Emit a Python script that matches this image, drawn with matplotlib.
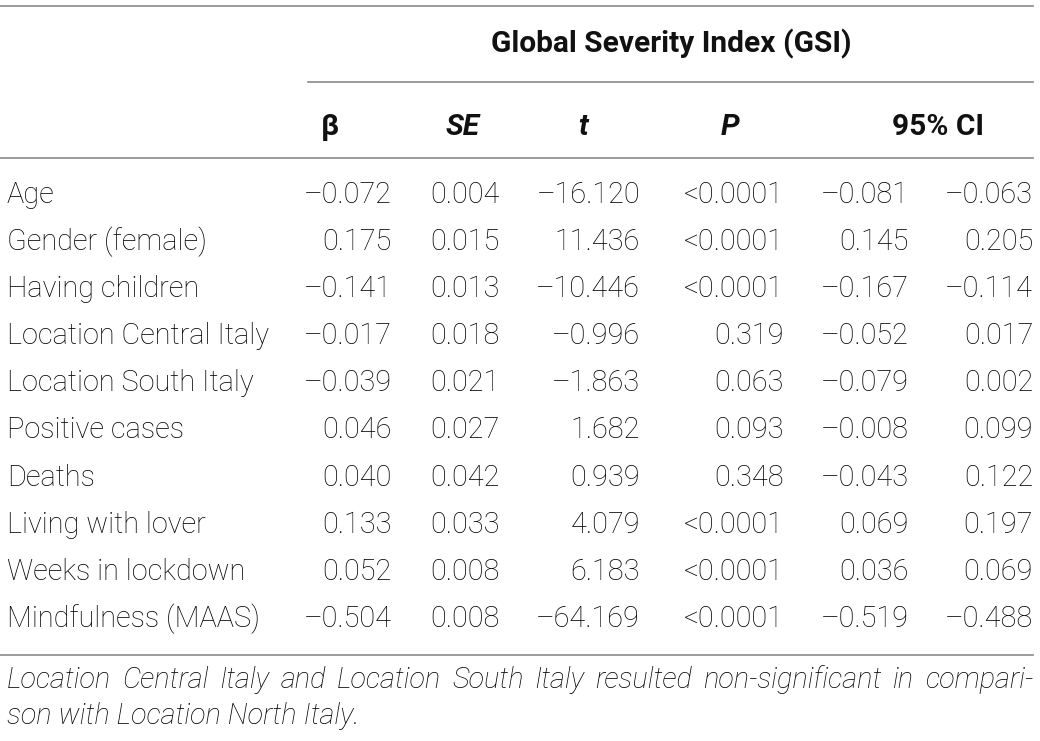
import matplotlib
matplotlib.use("Agg")
import matplotlib.pyplot as plt

plt.rcParams['font.family'] = ['Roboto', 'DejaVu Sans']

group_title = "Global Severity Index (GSI)"
col_heads = ["β", "SE", "t", "P", "95% CI"]
col_italic = [False, True, True, True, False]

rows = ["Age", "Gender (female)", "Having children", "Location Central Italy",
        "Location South Italy", "Positive cases", "Deaths", "Living with lover",
        "Weeks in lockdown", "Mindfulness (MAAS)"]
beta = ["–0.072", "0.175", "–0.141", "–0.017", "–0.039", "0.046", "0.040", "0.133", "0.052", "–0.504"]
se = ["0.004", "0.015", "0.013", "0.018", "0.021", "0.027", "0.042", "0.033", "0.008", "0.008"]
tval = ["–16.120", "11.436", "–10.446", "–0.996", "–1.863", "1.682", "0.939", "4.079", "6.183", "–64.169"]
pval = ["<0.0001", "<0.0001", "<0.0001", "0.319", "0.063", "0.093", "0.348", "<0.0001", "<0.0001", "<0.0001"]
ci_lo = ["–0.081", "0.145", "–0.167", "–0.052", "–0.079", "–0.008", "–0.043", "0.069", "0.036", "–0.519"]
ci_hi = ["–0.063", "0.205", "–0.114", "0.017", "0.002", "0.099", "0.122", "0.197", "0.069", "–0.488"]

note_lines = ["Location Central Italy and Location South Italy resulted non-significant in compari-",
              "son with Location North Italy."]

W, H = 1040, 741
fig = plt.figure(figsize=(W / 100, H / 100), dpi=100)
ax = fig.add_axes([0, 0, 1, 1])
ax.set_xlim(0, W)
ax.set_ylim(H, 0)
ax.axis("off")

txt = "#000000"
rule = "#8a8a8a"
fs = 20.8
fs_head = 21.5

# rules
ax.plot([0, 1033], [5.5, 5.5], color=rule, lw=1.2)
ax.plot([308, 1033], [82, 82], color=rule, lw=1.2)
ax.plot([0, 1033], [158, 158], color=rule, lw=1.2)
ax.plot([0, 1033], [655, 655], color=rule, lw=1.2)

# headers
ax.text(671, 44, group_title, ha="center", va="center", fontsize=fs_head, fontweight="bold", color="#111111")
head_x = [330, 463, 583, 730, 938]
for x, h, it in zip(head_x, col_heads, col_italic):
    ax.text(x, 127, h, ha="center", va="center", fontsize=fs_head, fontweight="bold",
            style="italic" if it else "normal", color="#111111")

# body
row_y0, row_dy = 195, 47.1
col_right = [392, 500, 640, 784, 909, 1033]
cols = [beta, se, tval, pval, ci_lo, ci_hi]
for i, name in enumerate(rows):
    y = row_y0 + i * row_dy
    ax.text(7, y, name, ha="left", va="center", fontsize=fs, fontweight="light", color=txt)
    for xr, col in zip(col_right, cols):
        ax.text(xr, y, col[i], ha="right", va="center", fontsize=fs, fontweight="light", color=txt)

# footnote, first line justified
fig.canvas.draw()
r = fig.canvas.get_renderer()
words = note_lines[0].split(" ")
objs = [ax.text(0, 680, w, ha="left", va="center", fontsize=fs, fontweight="light",
                style="italic", color=txt) for w in words]
widths = [o.get_window_extent(r).width for o in objs]
gap = (1033 - 7 - sum(widths)) / (len(words) - 1)
x = 7
for o, w in zip(objs, widths):
    o.set_x(x)
    x += w + gap
ax.text(7, 716, note_lines[1], ha="left", va="center", fontsize=fs, fontweight="light",
        style="italic", color=txt)

fig.savefig("out.png", dpi=100)
